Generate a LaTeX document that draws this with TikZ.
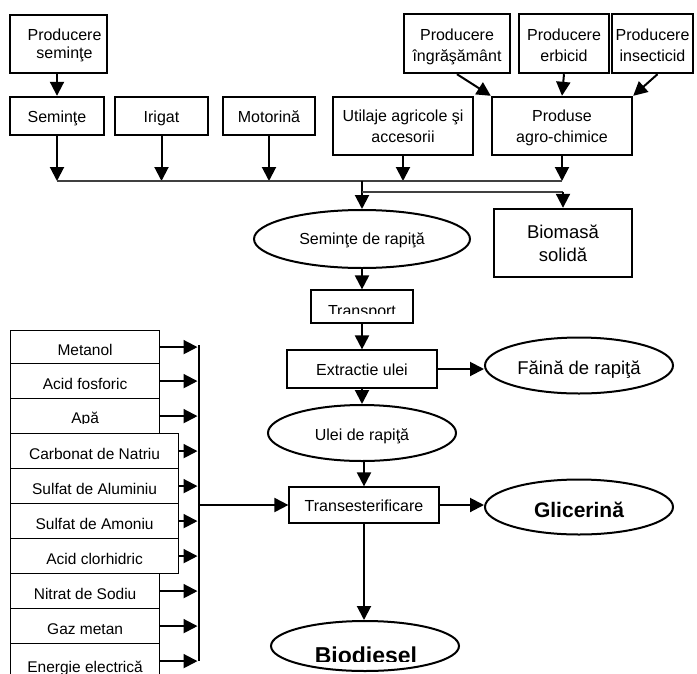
\documentclass[tikz,border=0pt]{standalone}
\usepackage{fontspec}
\setmainfont{Liberation Sans}
\usetikzlibrary{shapes.geometric,arrows.meta,calc}

\begin{document}
\begin{tikzpicture}[x=1pt,y=-1pt,
  txt/.style={font=\fontsize{16}{19}\selectfont},
  bigbox/.style={draw,line width=2.4pt,inner sep=0pt,align=center,font=\fontsize{16}{21}\selectfont},
  thinbox/.style={draw,line width=1.2pt,inner sep=0pt,align=center,font=\fontsize{16}{19}\selectfont},
  oneline/.style={text height=14pt,text depth=1pt},
  twoline/.style={text height=#1,text depth=0pt},
  inbox/.style={draw,line width=1.2pt,inner sep=0pt,anchor=north west,minimum height=35pt,
                text height=20pt,text depth=3pt,font=\fontsize{15.5}{18}\selectfont},
  oval/.style={draw,ellipse,line width=2pt,inner sep=0pt,text depth=0pt,font=\fontsize{16}{19}\selectfont},
  arr/.style={line width=2pt,-{Triangle[length=14pt,width=14pt]}},
  bus/.style={line width=1.3pt,draw=black!75},
]
\clip (0,0) rectangle (697,673);

% upstream supplies
\node[bigbox,twoline=28.6pt,minimum width=97pt,minimum height=58pt,font=\fontsize{16}{18}\selectfont] (ps) at (58.5,44) {\hspace*{12pt}Producere\\\hspace*{12pt}seminţe};
\node[bigbox,oneline,minimum width=94pt,minimum height=38pt] (sem) at (57,116) {Seminţe};
\node[bigbox,oneline,minimum width=93pt,minimum height=38pt] (iri) at (161.5,116) {Irigat};
\node[bigbox,oneline,minimum width=92pt,minimum height=38pt] (mot) at (269,116) {Motorină};
\node[bigbox,twoline=33.4pt,minimum width=140pt,minimum height=58pt] (util) at (403,126) {Utilaje agricole şi\\accesorii};
\node[bigbox,twoline=33.4pt,minimum width=140pt,minimum height=58pt] (agro) at (562,126) {Produse\\agro-chimice};
\node[bigbox,twoline=36pt,minimum width=106pt,minimum height=59pt] (ingr) at (457,43.5) {Producere\\îngrăşământ};
\node[bigbox,twoline=36pt,minimum width=90pt,minimum height=59pt] (erb) at (564,43.5) {Producere\\erbicid};
\node[bigbox,twoline=36pt,minimum width=81pt,minimum height=59pt] (ins) at (652.5,43.5) {Producere\\insecticid};

\draw[arr] (sem.north |- ps.south) -- (sem.north);
\draw[arr] (ingr.south) -- (agro.north west);
\draw[arr] (erb.south) -- (agro.north);
\draw[arr] ([xshift=5pt]ins.south) -- (agro.north east);

% collecting bus
\coordinate (busy) at (0,181);
\draw[arr] (sem.south) -- (sem.south |- busy);
\draw[arr] (iri.south) -- (iri.south |- busy);
\draw[arr] (mot.south) -- (mot.south |- busy);
\draw[arr] (util.south) -- (util.south |- busy);
\draw[arr] (agro.south) -- (agro.south |- busy);
\draw[bus] (sem.south |- busy) -- (agro.south |- busy);

% main chain
\node[oval,text height=10pt,minimum width=216pt,minimum height=58pt] (sdr) at (362,239) {Seminţe de rapiţă};
\node[bigbox,twoline=37.4pt,minimum width=138pt,minimum height=68pt,font=\fontsize{18.5}{23}\selectfont] (biom) at (563,243) {Biomasă\\solidă};
\coordinate (j1) at (362,181);
\coordinate (j2) at (362,192);
\coordinate (j3) at (biom.north |- j2);
\draw[arr] (j1) -- (sdr.north);
\draw[bus] (j2) -- (j3);
\draw[arr] (j3) -- (biom.north);

\node[thinbox,minimum width=102pt,minimum height=33pt] (tra) at (362,306.5) {};
\begin{scope}
  \clip (300,290) rectangle (420,313);
  \node[txt,anchor=base,inner sep=0pt] (tratxt) at (362,316.5) {Transport};
\end{scope}
\draw[arr] (sdr) -- (tra);

\node[thinbox,oneline,minimum width=150pt,minimum height=38pt] (ext) at (362,369) {Extractie ulei};
\draw[arr] (tra) -- (ext);
\node[oval,text height=18pt,minimum width=188pt,minimum height=56pt,font=\fontsize{18.5}{22}\selectfont] (fain) at (579,365.5) {Făină de rapiţă};
\draw[arr] (ext.east) -- (ext.east -| fain.west);

\node[oval,text height=14pt,minimum width=188pt,minimum height=56pt] (ulei) at (362,433) {Ulei de rapiţă};
\draw[arr] (ext) -- (ulei);

\node[thinbox,oneline,minimum width=150pt,minimum height=36pt] (tes) at (364,505) {Transesterificare};
\draw[arr] (ulei.south -| tes.north) -- (tes.north);
\node[oval,text height=20pt,minimum width=188pt,minimum height=55pt,font=\bfseries\fontsize{21}{24}\selectfont] (glic) at (579,507) {Glicerină};
\draw[arr] (tes.east) -- (tes.east -| glic.west);

\node[oval,minimum width=188pt,minimum height=50pt] (bio) at (365,646) {};
\begin{scope}
  \clip (250,630) rectangle (480,661);
  \node[anchor=base,inner sep=0pt,font=\bfseries\fontsize{23}{26}\selectfont] (biotxt) at (366,663.5) {Biodiesel};
\end{scope}
\draw[arr] (tes.south) -- (tes.south |- bio.north);

% process inputs
\node[inbox,minimum width=149pt,minimum height=33pt,text height=19pt] (met) at (10,330) {Metanol};
\node[inbox,minimum width=149pt] (acf) at (10,363) {Acid fosforic};
\node[inbox,minimum width=149pt] (apa) at (10,398) {};
\begin{scope}
  \clip (12,400) rectangle (157,423);
  \node[anchor=base,inner sep=0pt,font=\fontsize{15.5}{18}\selectfont] (apatxt) at (apa.north |- 0,423.5) {Apă};
\end{scope}
\node[inbox,minimum width=168pt] (carb) at (10,433) {Carbonat de Natriu};
\node[inbox,minimum width=168pt] (sal) at (10,468) {Sulfat de Aluminiu};
\node[inbox,minimum width=168pt] (sam) at (10,503) {Sulfat de Amoniu};
\node[inbox,minimum width=168pt] (acl) at (10,538) {Acid clorhidric};
\node[inbox,minimum width=149pt] (nit) at (10,573) {Nitrat de Sodiu};
\node[inbox,minimum width=149pt] (gaz) at (10,608) {Gaz metan};
\node[inbox,minimum width=149pt,text height=22pt,text depth=0pt] (ene) at (10,643) {Energie electrică};

\coordinate (vt) at (199,345);
\coordinate (vb) at (199,661);
\coordinate (tipx) at (197.5,0);
\draw[line width=1.3pt] (vt) -- (vb);
\foreach \n in {met,acf,apa,carb,sal,sam,acl,nit,gaz,ene}
  \draw[arr] (\n.east) -- (\n.east -| tipx);
\draw[arr] (tes.west -| vt) -- (tes.west);
\end{tikzpicture}
\end{document}
